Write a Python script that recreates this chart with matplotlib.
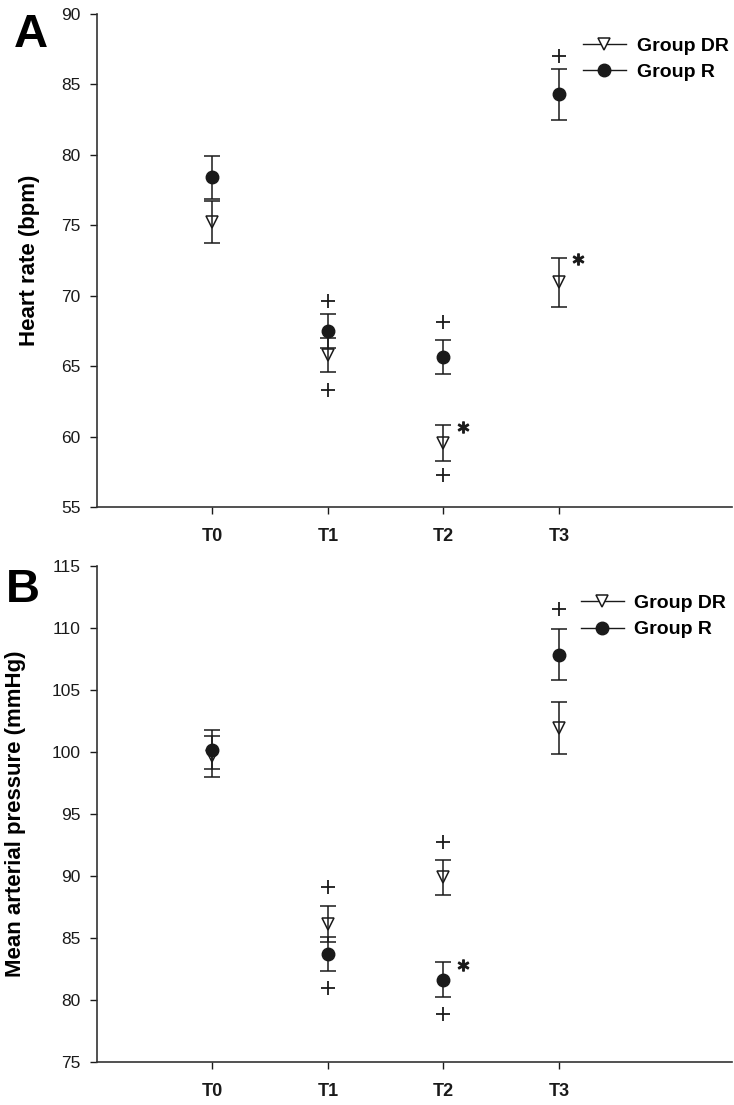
import matplotlib
matplotlib.use('Agg')
import matplotlib.pyplot as plt
from matplotlib.lines import Line2D

plt.rcParams['font.family'] = ['Liberation Sans', 'DejaVu Sans']

times = ['T0', 'T1', 'T2', 'T3']
xpos = [0, 1, 2, 3]

# Panel A - heart rate (bpm), mean +/- error
hr_dr = [75.25, 65.8, 59.55, 70.95]
hr_dr_err = [1.5, 1.2, 1.25, 1.75]
hr_r = [78.4, 67.5, 65.65, 84.3]
hr_r_err = [1.55, 1.2, 1.22, 1.8]
hr_plus_x = [1, 1, 2, 2, 3]
hr_plus_y = [69.65, 63.3, 68.15, 57.3, 87.0]
hr_star_x = [2, 3]
hr_star_y = [60.65, 72.6]

# Panel B - mean arterial pressure (mmHg)
map_dr = [99.65, 86.1, 89.9, 101.9]
map_dr_err = [1.65, 1.45, 1.4, 2.1]
map_r = [100.2, 83.7, 81.65, 107.85]
map_r_err = [1.6, 1.4, 1.4, 2.08]
map_plus_x = [1, 1, 2, 2, 3]
map_plus_y = [89.1, 81.0, 92.75, 78.85, 111.5]
map_star_x = [2]
map_star_y = [82.85]

ink = '#1a1a1a'


def draw_panel(ax, dr, dr_err, r, r_err, plus_x, plus_y, star_x, star_y,
               ylim, ylabel, label_x, legend_xy):
    # markers first, error bars drawn over them
    ax.plot(xpos, dr, linestyle='none', marker='v', ms=9, mfc='white',
            mec=ink, mew=1.1, zorder=2)
    ax.plot(xpos, r, linestyle='none', marker='o', ms=9, mfc=ink,
            mec=ink, zorder=2)
    ax.errorbar(xpos, dr, yerr=dr_err, fmt='none', ecolor=ink,
                elinewidth=1.1, capsize=5.5, capthick=1.1, zorder=3)
    ax.errorbar(xpos, r, yerr=r_err, fmt='none', ecolor=ink,
                elinewidth=1.1, capsize=5.5, capthick=1.1, zorder=3)
    ax.plot(plus_x, plus_y, linestyle='none', marker='+', ms=10, mew=1.3,
            color=ink, zorder=3)
    # significance stars, just right of the column
    ax.plot([sx + 0.17 for sx in star_x], star_y, linestyle='none',
            marker='$\\ast$', ms=8, color=ink, zorder=3)

    ax.set_xlim(-1, 4.5)
    ax.set_ylim(*ylim)
    ax.set_yticks(range(ylim[0], ylim[1] + 1, 5))
    ax.set_xticks(xpos)
    ax.set_xticklabels(times, fontsize=13, fontweight='bold')
    ax.tick_params(axis='y', labelsize=12.5, length=5, width=1, pad=7,
                   colors=ink)
    ax.tick_params(axis='x', length=5, width=1, pad=10, colors=ink)
    for s in ['top', 'right']:
        ax.spines[s].set_visible(False)
    for s in ['left', 'bottom']:
        ax.spines[s].set_color('#333333')
        ax.spines[s].set_linewidth(1.2)
    ax.set_ylabel(ylabel, fontsize=16, fontweight='bold')
    ax.yaxis.set_label_coords(label_x, 0.5)

    handles = [
        Line2D([0], [0], color=ink, lw=1, marker='v', ms=9, mfc='white',
               mec=ink, mew=1.1),
        Line2D([0], [0], color=ink, lw=1, marker='o', ms=9, mfc=ink,
               mec=ink),
    ]
    ax.legend(handles, ['Group DR', 'Group R'], loc='center left',
              bbox_to_anchor=legend_xy, bbox_transform=ax.transData,
              frameon=False, borderpad=0, borderaxespad=0,
              handlelength=2.2, handletextpad=0.55, labelspacing=0.45,
              prop={'size': 14, 'weight': 'bold'})


fig = plt.figure(figsize=(7.34, 11.05), dpi=100)
W, H = 734, 1105
ax1 = fig.add_axes([97 / W, 1 - 507 / H, 635 / W, 493 / H])
ax2 = fig.add_axes([97 / W, 1 - 1062 / H, 635 / W, 496 / H])

draw_panel(ax1, hr_dr, hr_dr_err, hr_r, hr_r_err, hr_plus_x, hr_plus_y,
           hr_star_x, hr_star_y, (55, 90), 'Heart rate (bpm)', -0.09,
           (3.21, 86.8))
draw_panel(ax2, map_dr, map_dr_err, map_r, map_r_err, map_plus_x,
           map_plus_y, map_star_x, map_star_y, (75, 115),
           'Mean arterial pressure (mmHg)', -0.112, (3.19, 110.93))

fig.text(31 / W, 1 - 35 / H, 'A', fontsize=34, fontweight='bold',
         ha='center', va='center')
fig.text(23 / W, 1 - 590 / H, 'B', fontsize=34, fontweight='bold',
         ha='center', va='center')

fig.savefig('out.png', dpi=100)
